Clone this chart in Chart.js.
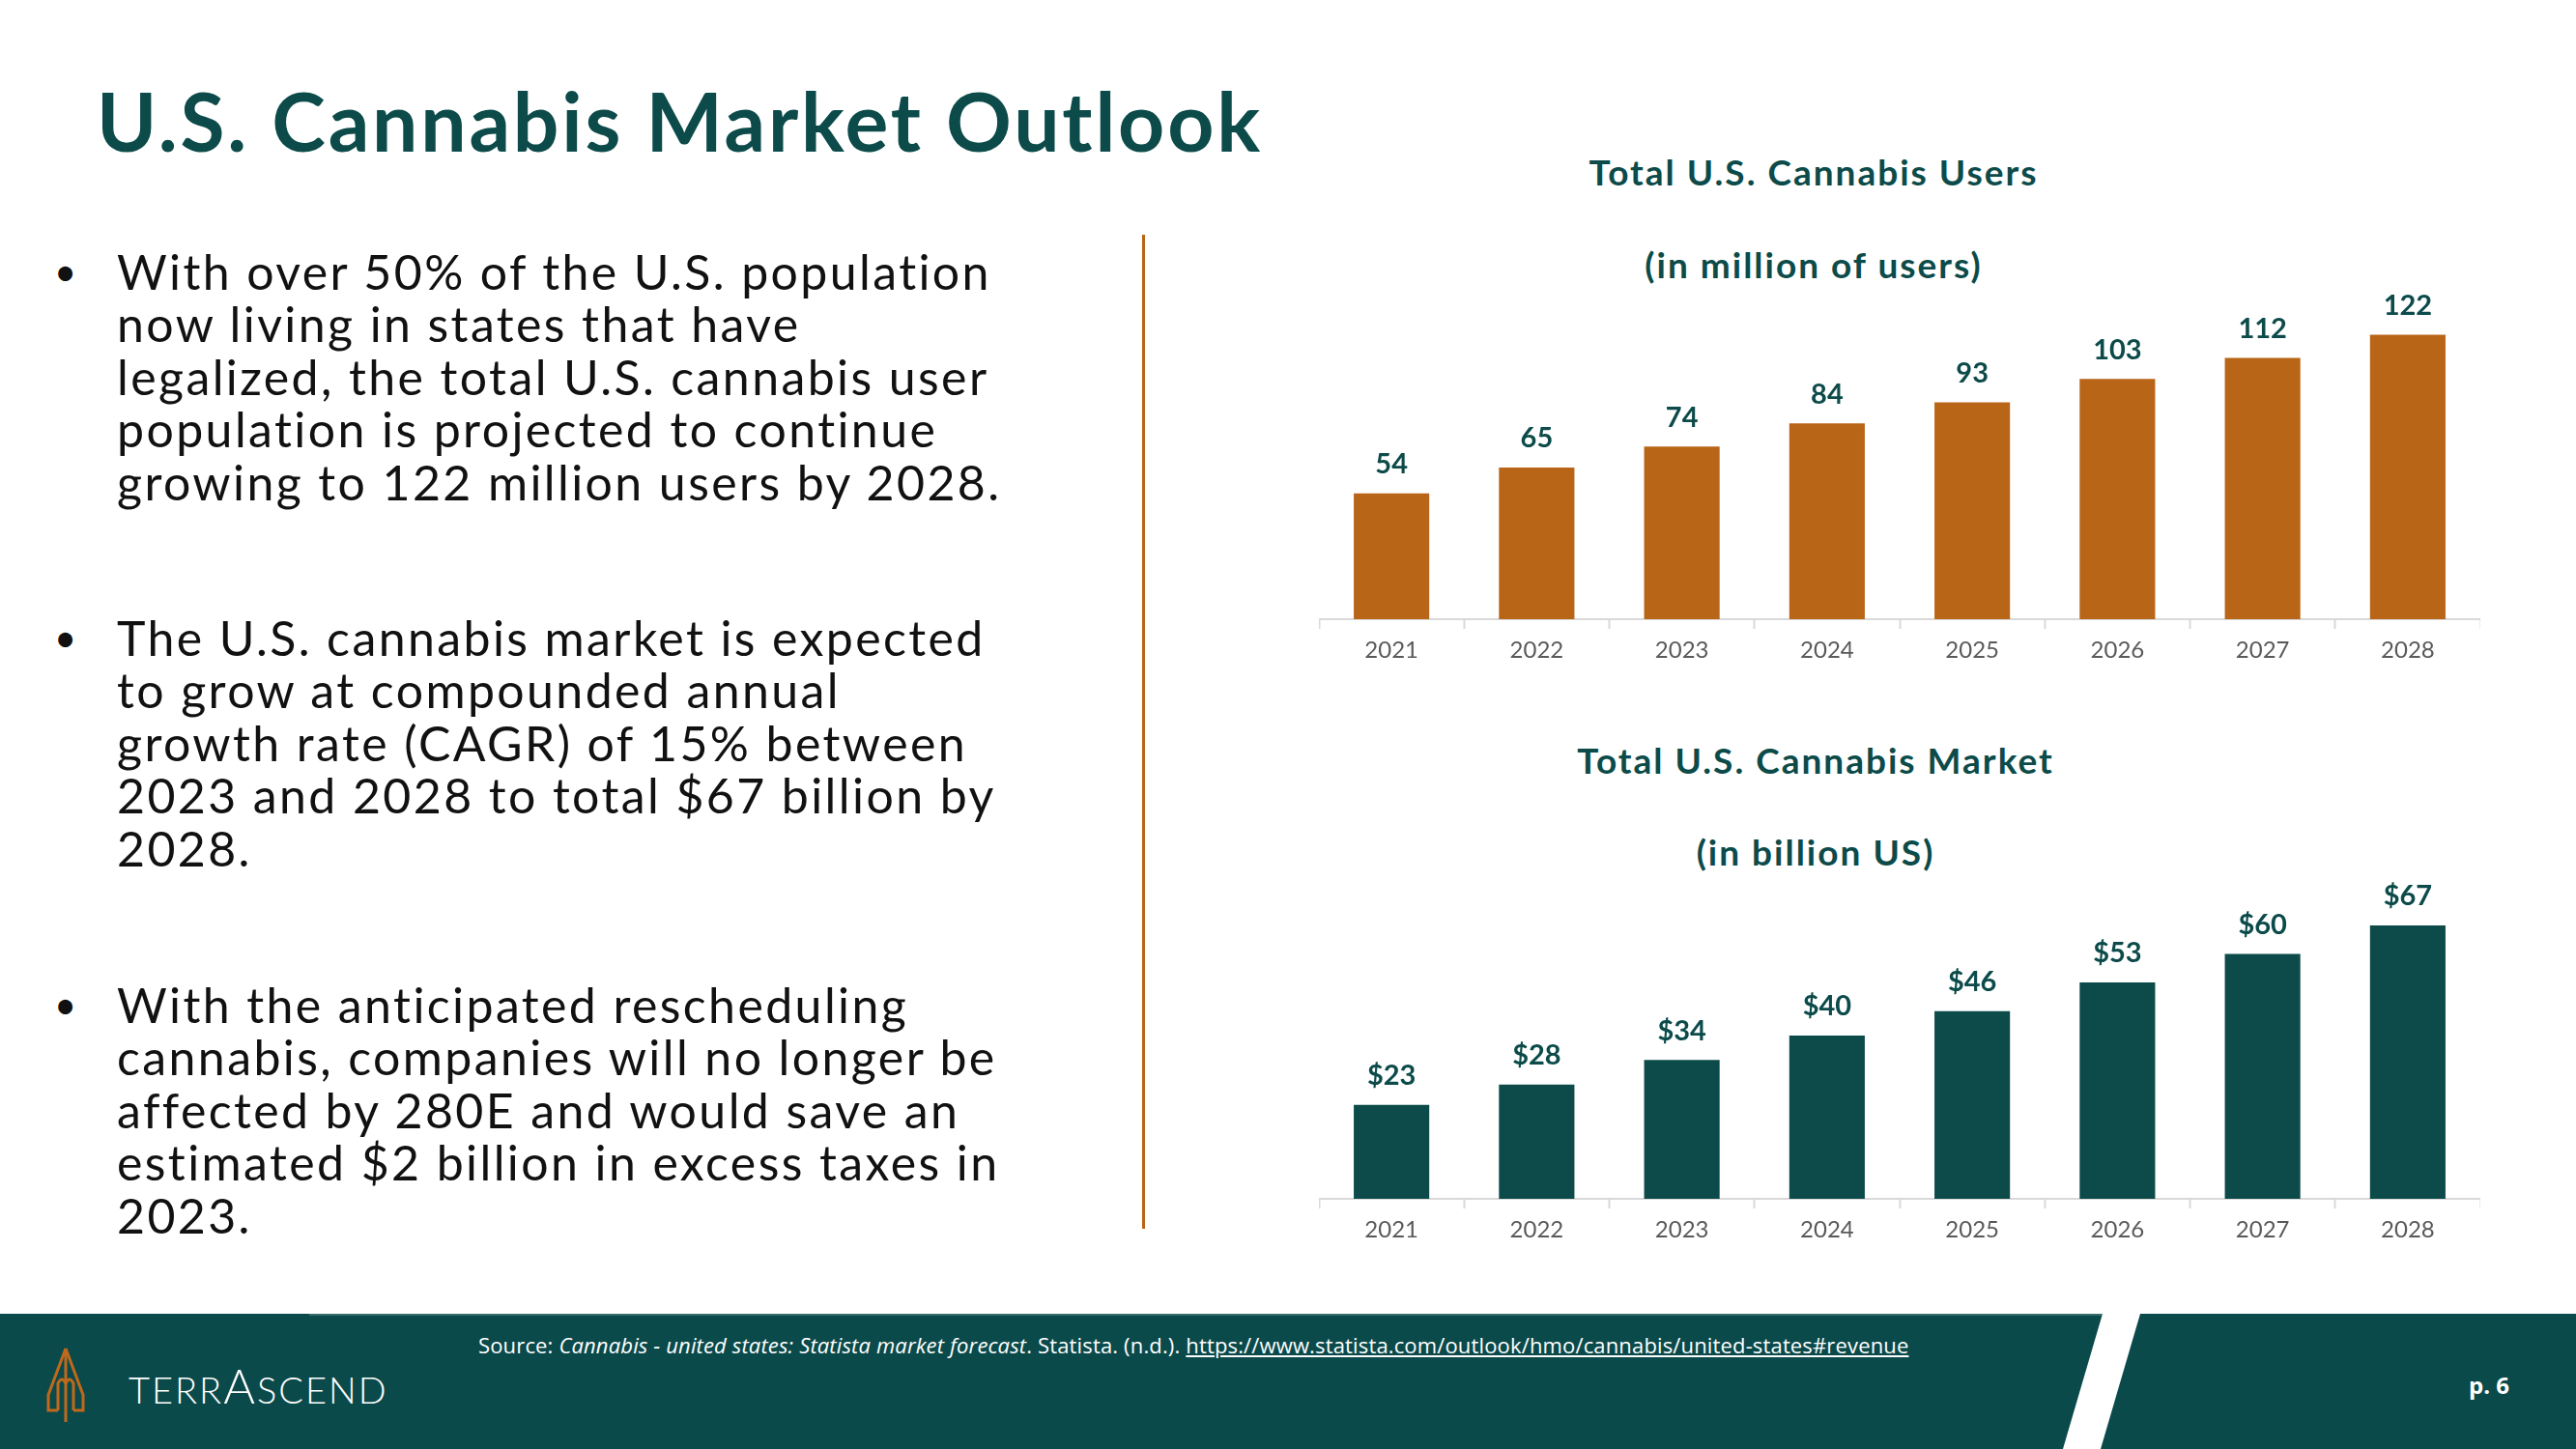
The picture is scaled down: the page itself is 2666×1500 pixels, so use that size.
<!DOCTYPE html>
<html>
<head>
<meta charset="utf-8">
<script src="https://cdn.jsdelivr.net/npm/chart.js@4.4.0/dist/chart.umd.min.js"></script>
<style>
  body { margin:0; width:2666px; height:1500px; position:relative; overflow:hidden; background:#fff; font-family:Lato, sans-serif; }
  .abs { position:absolute; }
  #title { left:100px; top:74px; font-size:84px; font-weight:700; color:#0c4b4a; letter-spacing:2.8px; white-space:nowrap; }
  .bullet { left:0; width:1150px; font-size:50px; line-height:54.4px; color:#111; }
  .bullet .dot { position:absolute; left:56px; top:0; font-size:40px; }
  .bullet .txt { position:absolute; left:121px; top:0; white-space:nowrap; letter-spacing:2.4px; }
  #divider { left:1182px; top:243px; width:3px; height:1029px; background:#b96517; }
  .ctitle { width:800px; margin-left:-400px; text-align:center; font-size:37px; font-weight:700; color:#0c4b4a; white-space:nowrap; letter-spacing:2px; }
  .chartbox { left:1365px; width:1202px; height:398px; }
  #footer { left:0; top:1360px; width:2666px; height:140px; background:#0b4a4b; }
  #source { left:495px; top:1377px; font-family:"Open Sans", sans-serif; font-size:22px; color:#fff; white-space:nowrap; letter-spacing:0.15px; }
  #source a { color:#fff; text-decoration:underline; }
  #brand { left:133px; top:1404px; font-size:38px; font-weight:300; color:#fff; letter-spacing:2px; white-space:nowrap; }
  #brand .big { font-size:50px; }
  #page { left:2555px; top:1417px; font-family:"Open Sans", sans-serif; font-size:24px; font-weight:700; color:#fff; }
</style>
</head>
<body>

<div id="title" class="abs">U.S. Cannabis Market Outlook</div>

<div class="abs bullet" style="top:254px"><span class="dot">•</span><span class="txt">With over 50% of the U.S. population<br>now living in states that have<br>legalized, the total U.S. cannabis user<br>population is projected to continue<br>growing to 122 million users by 2028.</span></div>
<div class="abs bullet" style="top:633px"><span class="dot">•</span><span class="txt">The U.S. cannabis market is expected<br>to grow at compounded annual<br>growth rate (CAGR) of 15% between<br>2023 and 2028 to total $67 billion by<br>2028.</span></div>
<div class="abs bullet" style="top:1013px"><span class="dot">•</span><span class="txt">With the anticipated rescheduling<br>cannabis, companies will no longer be<br>affected by 280E and would save an<br>estimated $2 billion in excess taxes in<br>2023.</span></div>

<div id="divider" class="abs"></div>

<div class="abs ctitle" style="left:1877px; top:155px">Total U.S. Cannabis Users</div>
<div class="abs ctitle" style="left:1877px; top:251px">(in million of users)</div>
<div class="abs chartbox" style="top:303px"><canvas id="usersChart"></canvas></div>

<div class="abs ctitle" style="left:1879px; top:764px">Total U.S. Cannabis Market</div>
<div class="abs ctitle" style="left:1879px; top:859px">(in billion US)</div>
<div class="abs chartbox" style="top:903px"><canvas id="marketChart"></canvas></div>

<div id="footer" class="abs"></div>
<div class="abs" style="left:320px; top:1360px; width:1856px; height:2px; background:#3a6b6b"></div>
<svg class="abs" style="left:0; top:1360px" width="2666" height="140">
  <polygon points="2176,0 2215,0 2174,140 2135,140" fill="#fff"/>
  <!-- logo mark -->
  <g stroke="#c0691c" stroke-width="3" fill="none">
    <line x1="68" y1="36" x2="68" y2="112"/>
    <polyline points="68,36 50,84 50,100 60,100"/>
    <polyline points="68,36 86,84 86,100 76,100"/>
    <path d="M60,100 L60,72 Q64,64 68,72"/>
    <path d="M76,100 L76,72 Q72,64 68,72"/>
  </g>
</svg>
<div id="brand" class="abs">TERR<span class="big">A</span>SCEND</div>
<div id="source" class="abs">Source: <i>Cannabis - united states: Statista market forecast</i>. Statista. (n.d.). <a>https://www.statista.com/outlook/hmo/cannabis/united-states#revenue</a></div>
<div id="page" class="abs">p. 6</div>

<script>
// chart data
const years = ['2021', '2022', '2023', '2024', '2025', '2026', '2027', '2028'];
const users = [54, 65, 74, 84, 93, 103, 112, 122];      // million users
const market = [23, 28, 34, 40, 46, 53, 60, 67];        // billion US$

const green = '#0c4b4a';
const orange = '#b96517';

// draws the value above each bar
const barLabels = {
  id: 'barLabels',
  afterDatasetsDraw(chart, args, opts) {
    const ctx = chart.ctx;
    const meta = chart.getDatasetMeta(0);
    const data = chart.data.datasets[0].data;
    ctx.save();
    ctx.font = 'bold 29px Lato';
    ctx.fillStyle = green;
    ctx.textAlign = 'center';
    ctx.textBaseline = 'middle';
    meta.data.forEach(function(bar, i) {
      ctx.fillText(opts.prefix + data[i], bar.x, bar.y - 30);
    });
    ctx.restore();
  }
};

function makeChart(id, values, color, maxY, prefix) {
  const ctx = document.getElementById(id).getContext('2d');
  return new Chart(ctx, {
    type: 'bar',
    data: {
      labels: years,
      datasets: [{
        data: values,
        backgroundColor: color,
        categoryPercentage: 1,
        barPercentage: 0.52
      }]
    },
    options: {
      responsive: true,
      maintainAspectRatio: false,
      animation: false,
      layout: { padding: 0 },
      plugins: {
        legend: { display: false },
        tooltip: { enabled: false },
        barLabels: { prefix: prefix }
      },
      scales: {
        x: {
          afterFit: function(scale) { scale.height = 60; },
          border: { color: '#d9d9d9', width: 2 },
          grid: { drawOnChartArea: false, drawTicks: true, tickLength: 10, color: '#d9d9d9', tickWidth: 2 },
          ticks: { color: '#595959', font: { family: 'Lato', size: 24 }, padding: 8 }
        },
        y: {
          display: false,
          min: 0,
          max: maxY
        }
      }
    },
    plugins: [barLabels]
  });
}

makeChart('usersChart', users, orange, 140, '');
makeChart('marketChart', market, green, 80, '$');
</script>
</body>
</html>
